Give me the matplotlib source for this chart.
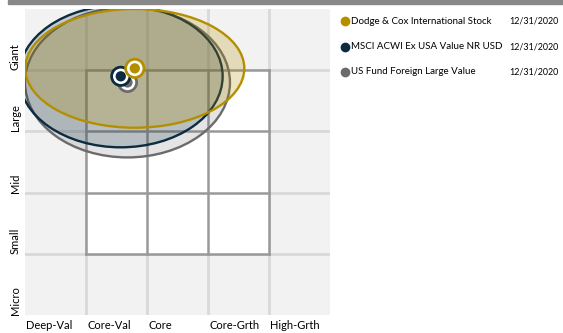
import matplotlib.pyplot as plt
from matplotlib.patches import Ellipse, Rectangle
from matplotlib.lines import Line2D

plt.rcParams['font.family'] = ['Lato', 'DejaVu Sans']

style_cols = ["Deep-Val", "Core-Val", "Core", "Core-Grth", "High-Grth"]
size_rows = ["Micro", "Small", "Mid", "Large", "Giant"]

names = ["US Fund Foreign Large Value", "MSCI ACWI Ex USA Value NR USD",
         "Dodge & Cox International Stock"]
dates = ["12/31/2020", "12/31/2020", "12/31/2020"]
colors = ["#6b6b6b", "#0b2b40", "#b38f00"]
centroid_x = [1.68, 1.57, 1.80]
centroid_y = [3.80, 3.90, 4.03]
ellipse_w = [3.36, 3.34, 3.59]
ellipse_h = [2.45, 2.32, 1.94]
fill_alpha = [0.18, 0.2, 0.24]


def main():
    fig = plt.figure(figsize=(5.63, 3.33), dpi=100)
    # grey strip along the top
    fig.patches.append(Rectangle((8 / 563, 1 - 3.5 / 333), 1, 3.5 / 333,
                                 transform=fig.transFigure, color="#888888"))

    ax = fig.add_axes([25 / 563, 18 / 333, 305 / 563, 306 / 333])
    ax.set_xlim(0, 5)
    ax.set_ylim(0, 5)
    ax.set_facecolor("#f2f2f2")
    for s in ax.spines.values():
        s.set_visible(False)
    ax.set_xticks([])
    ax.set_yticks([])

    # light background grid
    for v in range(1, 5):
        ax.plot([v, v], [0, 5], color="#d9d9d9", lw=2, zorder=1)
        ax.plot([0, 5], [v, v], color="#d9d9d9", lw=2, zorder=1)

    # white style box
    ax.add_patch(Rectangle((1, 1), 3, 3, facecolor="white", edgecolor="none", zorder=2))
    for v in range(1, 5):
        ax.plot([v, v], [1, 4], color="#999999", lw=1.8, zorder=3)
        ax.plot([1, 4], [v, v], color="#999999", lw=1.8, zorder=3)

    # ownership zones
    for i in range(len(names)):
        ax.add_patch(Ellipse((centroid_x[i], centroid_y[i]), ellipse_w[i], ellipse_h[i],
                             facecolor=colors[i], alpha=fill_alpha[i], edgecolor="none",
                             zorder=4 + i))
        ax.add_patch(Ellipse((centroid_x[i], centroid_y[i]), ellipse_w[i], ellipse_h[i],
                             facecolor="none", edgecolor=colors[i], lw=1.7, zorder=4 + i))

    # centroids
    for i in range(len(names)):
        ax.scatter(centroid_x[i], centroid_y[i], s=230, color=colors[i], zorder=10 + i,
                   edgecolors="none")
        ax.scatter(centroid_x[i], centroid_y[i], s=125, color="white", zorder=10 + i,
                   edgecolors="none")
        ax.scatter(centroid_x[i], centroid_y[i], s=55, color=colors[i], zorder=10 + i,
                   edgecolors="none")

    for i, lab in enumerate(style_cols):
        ax.text(i + 0.02, -0.17, lab, ha="left", va="center", fontsize=8,
                clip_on=False)
    for i, lab in enumerate(size_rows):
        ax.text(-0.16, i, lab, rotation=90, rotation_mode="anchor", ha="left",
                va="center", fontsize=8, clip_on=False)

    # legend
    for k, i in enumerate(reversed(range(len(names)))):
        y = 1 - (21 + 25.5 * k) / 333
        fig.add_artist(Line2D([345 / 563], [y], marker="o", markersize=6,
                              color=colors[i], transform=fig.transFigure))
        fig.text(351 / 563, y, names[i], ha="left", va="center", fontsize=7)
        fig.text(509 / 563, y, dates[i], ha="left", va="center", fontsize=6.4)

    fig.savefig("out.png", dpi=100)


if __name__ == "__main__":
    main()
